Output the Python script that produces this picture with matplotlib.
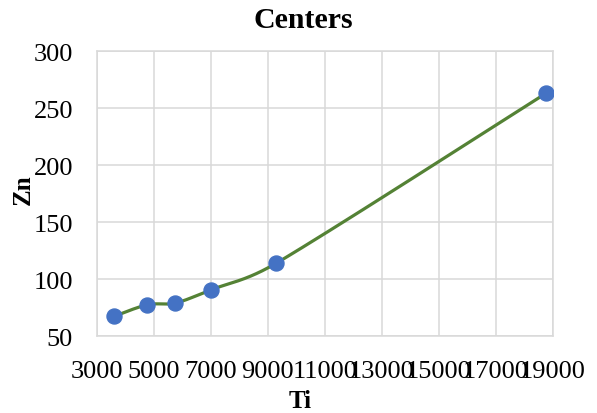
import numpy as np
import matplotlib
matplotlib.use("Agg")
import matplotlib.pyplot as plt

# Ti vs Zn cluster centers
ti = [3610, 4780, 5760, 7010, 9290, 18750]
zn = [67.5, 77.7, 79.2, 90.8, 114.0, 263.0]

x_ticks = [3000, 5000, 7000, 9000, 11000, 13000, 15000, 17000, 19000]
y_ticks = [50, 100, 150, 200, 250, 300]

plt.rcParams['font.family'] = ['Liberation Serif', 'DejaVu Serif']

AX_W, AX_H = 456.0, 285.0   # axes size in pixels


def smooth_curve(px, py, n=80):
    # Bezier smoothing through the points; handles are 1/6 of the neighbour
    # chord, capped at half the segment length (worked in pixel units)
    p = np.column_stack([np.asarray(px) * AX_W, np.asarray(py) * AX_H])
    p = np.vstack([p[0], p, p[-1]])
    out = []
    for i in range(1, len(p) - 2):
        p0, p1, p2, p3 = p[i - 1], p[i], p[i + 1], p[i + 2]
        half = np.linalg.norm(p2 - p1) / 2.0
        t1 = (p2 - p0) / 6.0
        t2 = (p3 - p1) / 6.0
        if np.linalg.norm(t1) > half:
            t1 = t1 * half / np.linalg.norm(t1)
        if np.linalg.norm(t2) > half:
            t2 = t2 * half / np.linalg.norm(t2)
        c1 = p1 + t1
        c2 = p2 - t2
        t = np.linspace(0, 1, n)[:, None]
        seg = ((1 - t) ** 3) * p1 + 3 * ((1 - t) ** 2) * t * c1 \
            + 3 * (1 - t) * t ** 2 * c2 + t ** 3 * p2
        out.append(seg)
    out = np.vstack(out)
    return out[:, 0] / AX_W, out[:, 1] / AX_H


fig = plt.figure(figsize=(5.97, 4.14), dpi=100)
ax = fig.add_axes([0.162, 0.1853, 0.764, 0.6884])

xmin, xmax = x_ticks[0], x_ticks[-1]
ymin, ymax = y_ticks[0], y_ticks[-1]
ax.set_xlim(xmin, xmax)
ax.set_ylim(ymin, ymax)

fx = (np.array(ti) - xmin) / (xmax - xmin)
fy = (np.array(zn) - ymin) / (ymax - ymin)
sx, sy = smooth_curve(fx, fy)
ax.plot(xmin + sx * (xmax - xmin), ymin + sy * (ymax - ymin),
        color='#548235', lw=2.3, zorder=3, solid_capstyle='round')
ax.plot(ti, zn, 'o', color='#4472C4', markersize=10.8, zorder=4)

ax.set_xticks(x_ticks)
ax.set_yticks(y_ticks)
ax.set_xticklabels([str(v) for v in x_ticks])
ax.set_yticklabels([str(v) for v in y_ticks])
ax.tick_params(axis='both', length=0, labelsize=19)
ax.tick_params(axis='x', pad=17)
ax.tick_params(axis='y', pad=17)

ax.grid(True, color='#D9D9D9', lw=1.1)
ax.set_axisbelow(True)
for s in ax.spines.values():
    s.set_color('#D9D9D9')
    s.set_linewidth(1.1)

ax.set_xlabel('Ti', fontsize=18, fontweight='bold', va='center')
ax.set_ylabel('Zn', fontsize=18, fontweight='bold', va='center')
ax.xaxis.set_label_coords((300 - 96.7) / AX_W, -(401.7 - 337.3) / AX_H)
ax.yaxis.set_label_coords(-(96.7 - 23) / AX_W, (337.3 - 190) / AX_H)

fig.text(303.7 / 597, 1 - 21 / 414, 'Centers', fontsize=21.5,
         fontweight='bold', ha='center', va='center')

fig.savefig('out.png', dpi=100)
